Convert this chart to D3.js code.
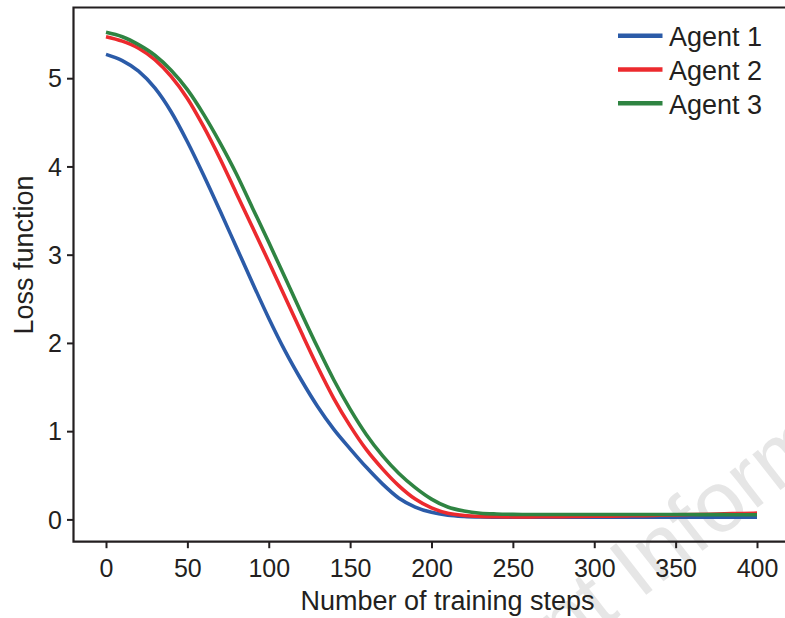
<!DOCTYPE html>
<html>
<head>
<meta charset="utf-8">
<script src="https://cdn.jsdelivr.net/npm/d3@7"></script>
<style>
  body { margin: 0; background: #fff; }
  svg { display: block; font-family: "Liberation Sans", Arial, Helvetica, sans-serif; }
  .tick text { fill: #231f20; }
</style>
</head>
<body>
<div id="chartdiv"></div>
<script>
//training steps (x values)
var steps = [0, 10, 20, 30, 40, 50, 60, 70, 80, 90,
  100, 110, 120, 130, 140, 150, 160, 170, 180, 190,
  200, 210, 220, 230, 240, 250, 260, 270, 280, 290,
  300, 310, 320, 330, 340, 350, 360, 370, 380, 390, 400];

//loss values
var agent1 = [5.27, 5.20, 5.08, 4.89, 4.62, 4.28, 3.90, 3.50, 3.09, 2.68,
  2.28, 1.91, 1.58, 1.28, 1.02, 0.80, 0.59, 0.40, 0.24, 0.14,
  0.08, 0.048, 0.034, 0.028, 0.026, 0.025, 0.025, 0.025, 0.025, 0.025,
  0.025, 0.025, 0.025, 0.025, 0.025, 0.025, 0.025, 0.025, 0.025, 0.025, 0.025];
var agent2 = [5.47, 5.42, 5.34, 5.21, 5.02, 4.77, 4.45, 4.09, 3.70, 3.31,
  2.92, 2.52, 2.12, 1.73, 1.37, 1.06, 0.79, 0.57, 0.38, 0.23,
  0.13, 0.07, 0.045, 0.034, 0.030, 0.029, 0.029, 0.030, 0.031, 0.033,
  0.035, 0.037, 0.040, 0.043, 0.047, 0.051, 0.055, 0.059, 0.063, 0.067, 0.071];
var agent3 = [5.52, 5.47, 5.38, 5.26, 5.09, 4.87, 4.59, 4.27, 3.92, 3.53,
  3.14, 2.74, 2.34, 1.95, 1.58, 1.25, 0.96, 0.72, 0.52, 0.36,
  0.23, 0.14, 0.095, 0.07, 0.061, 0.057, 0.055, 0.055, 0.055, 0.055,
  0.055, 0.055, 0.055, 0.055, 0.055, 0.055, 0.055, 0.054, 0.054, 0.053, 0.053];

var seriesNames = ["Agent 1", "Agent 2", "Agent 3"];
var seriesColors = ["#2b5ba8", "#ec2a2e", "#2f8442"];
var xTicks = [0, 50, 100, 150, 200, 250, 300, 350, 400];
var yTicks = [0, 1, 2, 3, 4, 5];

var width = 785, height = 618;
var frameLeft = 73.5, frameTop = 7.5, frameBottom = 541.7;

var svg = d3.select("#chartdiv")
    .append("svg")
    .attr("width", width)
    .attr("height", height);

//faint watermark behind the plot (runs off the picture like the original)
svg.append("text")
    .attr("transform", "translate(527,688) rotate(-38)")
    .attr("font-size", 86)
    .attr("fill", "#e6e6e6")
    .text("ent Information");

var x = d3.scaleLinear().domain([0, 400]).range([106, 757]);
var y = d3.scaleLinear().domain([0, 5]).range([519.4, 78.2]);

//axes (domain lines drawn separately as a frame)
var xAxis = svg.append("g")
    .attr("transform", "translate(0," + frameBottom + ")")
    .call(d3.axisBottom(x).tickValues(xTicks).tickSize(6.5).tickSizeOuter(0));
xAxis.select(".domain").remove();
xAxis.selectAll(".tick line").attr("stroke", "#231f20").attr("stroke-width", 2);
xAxis.selectAll(".tick text")
    .attr("font-size", 25)
    .attr("font-family", "Liberation Sans, Arial, sans-serif")
    .attr("dy", null)
    .attr("y", 35);

var yAxis = svg.append("g")
    .attr("transform", "translate(" + frameLeft + ",0)")
    .call(d3.axisLeft(y).tickValues(yTicks).tickFormat(d3.format("d"))
      .tickSize(6.5).tickPadding(5).tickSizeOuter(0));
yAxis.select(".domain").remove();
yAxis.selectAll(".tick line").attr("stroke", "#231f20").attr("stroke-width", 2);
yAxis.selectAll(".tick text")
    .attr("font-size", 25)
    .attr("font-family", "Liberation Sans, Arial, sans-serif")
    .attr("dy", "0.35em");

//frame: left, top and bottom (right side runs off the picture)
svg.append("path")
    .attr("d", "M" + (width + 10) + "," + frameTop + "H" + frameLeft + "V" + frameBottom + "H" + (width + 10))
    .attr("fill", "none")
    .attr("stroke", "#231f20")
    .attr("stroke-width", 2.2);

//loss curves
var allSeries = [agent1, agent2, agent3];
var line = d3.line()
    .x(function(d, i){ return x(steps[i]); })
    .y(function(d){ return y(d); })
    .curve(d3.curveMonotoneX);

svg.selectAll(".curve")
    .data(allSeries)
    .enter()
    .append("path")
    .attr("class", "curve")
    .attr("fill", "none")
    .attr("stroke", function(d, i){ return seriesColors[i]; })
    .attr("stroke-width", 3.6)
    .attr("d", line);

//legend
var legend = svg.selectAll(".legend")
    .data(seriesNames)
    .enter()
    .append("g")
    .attr("class", "legend")
    .attr("transform", function(d, i){ return "translate(618," + (35.7 + i * 33.8) + ")"; });
legend.append("line")
    .attr("x1", 0).attr("x2", 44.5)
    .attr("y1", 0).attr("y2", 0)
    .attr("stroke", function(d, i){ return seriesColors[i]; })
    .attr("stroke-width", 4.5);
legend.append("text")
    .attr("x", 51)
    .attr("y", 10.5)
    .attr("font-size", 27)
    .attr("fill", "#231f20")
    .text(function(d){ return d; });

//axis titles
svg.append("text")
    .attr("x", 447.5)
    .attr("y", 610)
    .attr("text-anchor", "middle")
    .attr("font-size", 27)
    .attr("fill", "#231f20")
    .text("Number of training steps");

svg.append("text")
    .attr("transform", "translate(33,255) rotate(-90)")
    .attr("text-anchor", "middle")
    .attr("font-size", 27)
    .attr("fill", "#231f20")
    .text("Loss function");
</script>
</body>
</html>
